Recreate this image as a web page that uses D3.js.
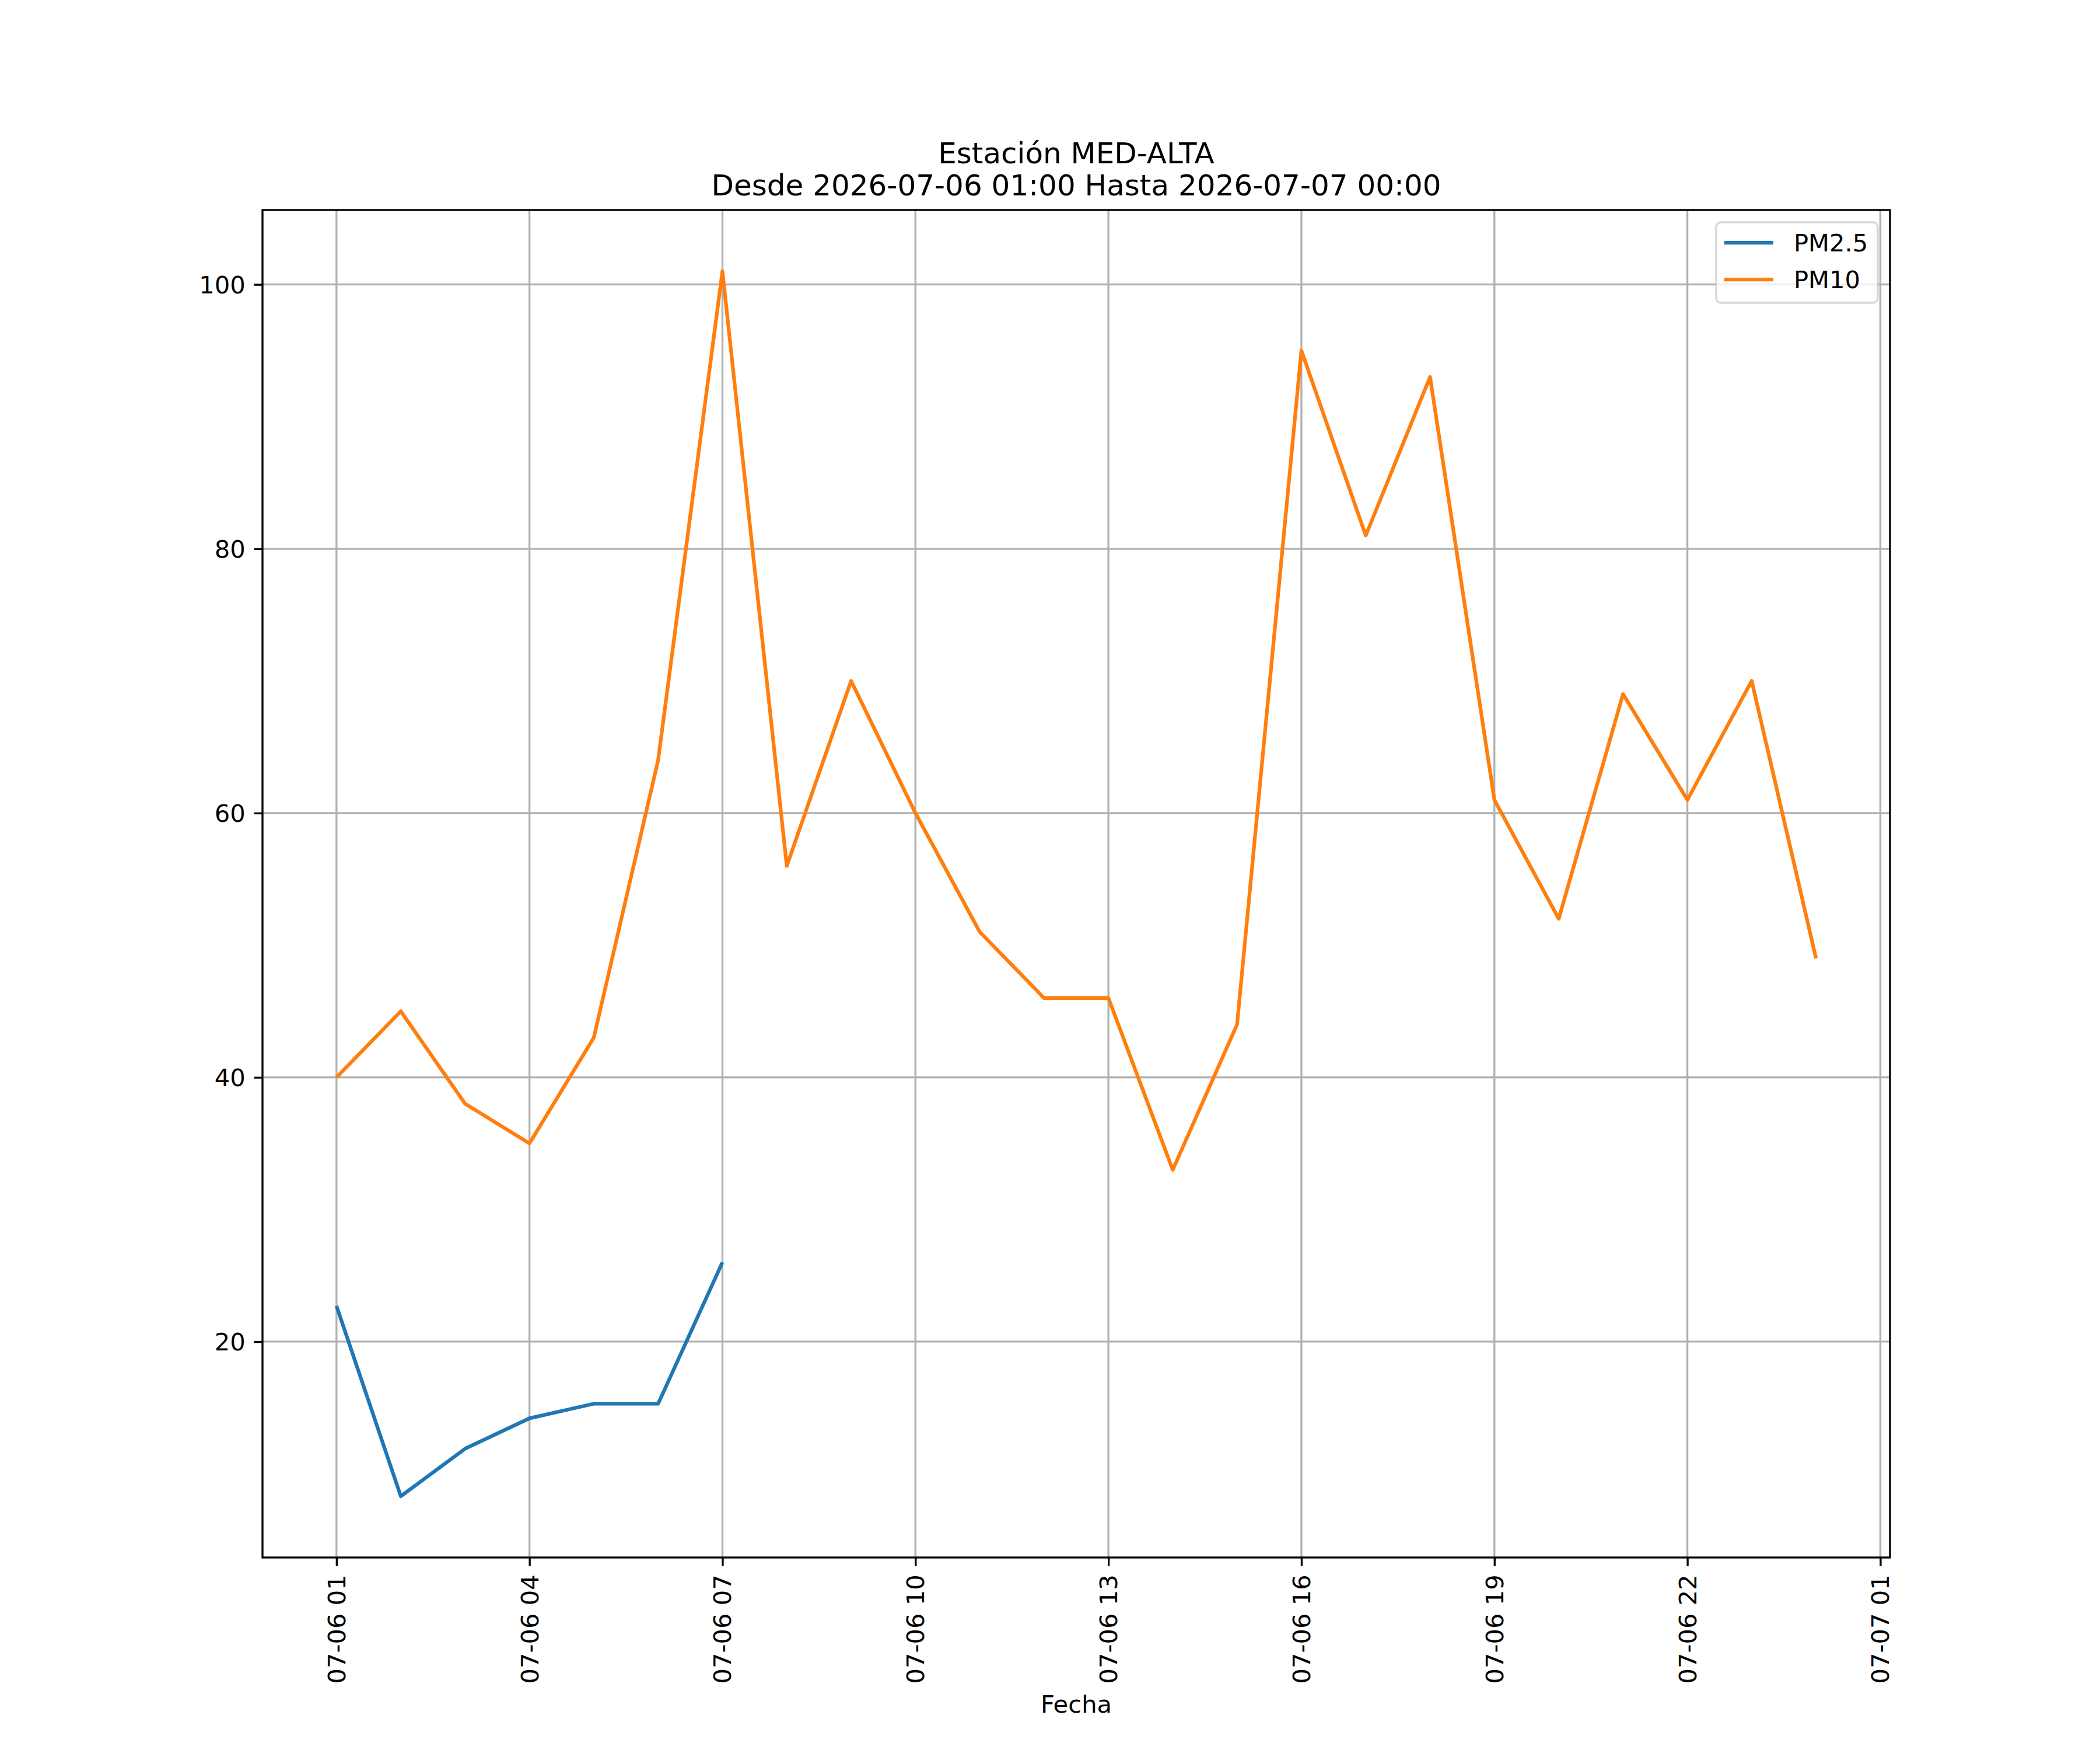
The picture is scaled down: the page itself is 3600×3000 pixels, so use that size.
<!DOCTYPE html>
<html>
<head>
<meta charset="utf-8">
<script src="https://cdn.jsdelivr.net/npm/d3@7"></script>
<style>
  body { margin: 0; background: #fff; }
  svg { display: block; font-family: "DejaVu Sans", sans-serif; }
</style>
</head>
<body>
<svg id="chart" width="3600" height="3000"></svg>
<script>
// horas de medicion
var fechas = [
  '2026-07-06 01:00', '2026-07-06 02:00', '2026-07-06 03:00', '2026-07-06 04:00',
  '2026-07-06 05:00', '2026-07-06 06:00', '2026-07-06 07:00', '2026-07-06 08:00',
  '2026-07-06 09:00', '2026-07-06 10:00', '2026-07-06 11:00', '2026-07-06 12:00',
  '2026-07-06 13:00', '2026-07-06 14:00', '2026-07-06 15:00', '2026-07-06 16:00',
  '2026-07-06 17:00', '2026-07-06 18:00', '2026-07-06 19:00', '2026-07-06 20:00',
  '2026-07-06 21:00', '2026-07-06 22:00', '2026-07-06 23:00', '2026-07-07 00:00'
];
var pm25 = [22.7, 8.3, 11.9, 14.2, 15.3, 15.3, 26.0, null, null, null, null, null,
  null, null, null, null, null, null, null, null, null, null, null, null];
var pm10 = [40, 45, 38, 35, 43, 64, 101, 56, 70, 60, 51, 46,
  46, 33, 44, 95, 81, 93, 61, 52, 69, 61, 70, 49];
var series = ['PM2.5', 'PM10'];
var colores = ['#1f77b4', '#ff7f0e'];
var yTicks = [20, 40, 60, 80, 100];
var titulo = ['Estación MED-ALTA', 'Desde 2026-07-06 01:00 Hasta 2026-07-07 00:00'];
var xLabel = 'Fecha';

var parse = d3.timeParse('%Y-%m-%d %H:%M');
var fmt = d3.timeFormat('%m-%d %H');
var pt = 300 / 72;

var W = 3600, H = 3000;
var m = {left: 450, right: 3240, top: 360, bottom: 2670};

var dates = fechas.map(parse);
var t0 = dates[0], t1 = dates[dates.length - 1];
var span = t1 - t0;
var x = d3.scaleTime()
  .domain([new Date(+t0 - span * 0.05), new Date(+t1 + span * 0.05)])
  .range([m.left, m.right]);

var all = pm25.concat(pm10).filter(function(d){ return d !== null; });
var ymin = d3.min(all), ymax = d3.max(all);
var ypad = (ymax - ymin) * 0.05;
var y = d3.scaleLinear()
  .domain([ymin - ypad, ymax + ypad])
  .range([m.bottom, m.top]);

var svg = d3.select('#chart');
svg.append('rect').attr('width', W).attr('height', H).attr('fill', '#fff');

svg.append('defs').append('clipPath').attr('id', 'clip')
  .append('rect')
  .attr('x', m.left).attr('y', m.top)
  .attr('width', m.right - m.left).attr('height', m.bottom - m.top);

var xTicks = d3.timeHour.range(t0, new Date(+t1 + 2 * 3600e3), 3);

// grid
var grid = svg.append('g');
grid.selectAll('.gx').data(xTicks).enter().append('line')
  .attr('x1', function(d){ return x(d); }).attr('x2', function(d){ return x(d); })
  .attr('y1', m.top).attr('y2', m.bottom)
  .attr('stroke', '#b0b0b0').attr('stroke-width', 0.8 * pt);
grid.selectAll('.gy').data(yTicks).enter().append('line')
  .attr('x1', m.left).attr('x2', m.right)
  .attr('y1', function(d){ return y(d); }).attr('y2', function(d){ return y(d); })
  .attr('stroke', '#b0b0b0').attr('stroke-width', 0.8 * pt);

// lineas
var datos = [pm25, pm10];
var line = d3.line()
  .defined(function(d){ return d[1] !== null; })
  .x(function(d){ return x(d[0]); })
  .y(function(d){ return y(d[1]); });

svg.append('g').attr('clip-path', 'url(#clip)')
  .selectAll('path').data(datos).enter().append('path')
  .attr('d', function(s){ return line(dates.map(function(d, i){ return [d, s[i]]; })); })
  .attr('fill', 'none')
  .attr('stroke', function(d, i){ return colores[i]; })
  .attr('stroke-width', 1.5 * pt)
  .attr('stroke-linejoin', 'round');

// ejes
var fs = 10 * pt;
var xAxis = svg.append('g').attr('transform', 'translate(0,' + m.bottom + ')')
  .call(d3.axisBottom(x).tickValues(xTicks).tickFormat(fmt)
    .tickSize(3.5 * pt).tickPadding(3.5 * pt));
xAxis.select('.domain').remove();
xAxis.selectAll('line').attr('stroke', '#000').attr('stroke-width', 0.8 * pt);
xAxis.selectAll('text')
  .attr('font-size', fs)
  .attr('font-family', 'DejaVu Sans')
  .attr('fill', '#000')
  .attr('text-anchor', 'end')
  .attr('dy', null)
  .attr('dominant-baseline', 'central')
  .attr('transform', 'rotate(-90)')
  .attr('x', -7 * pt)
  .attr('y', 0);

var yAxis = svg.append('g').attr('transform', 'translate(' + m.left + ',0)')
  .call(d3.axisLeft(y).tickValues(yTicks).tickSize(3.5 * pt).tickPadding(3.5 * pt));
yAxis.select('.domain').remove();
yAxis.selectAll('line').attr('stroke', '#000').attr('stroke-width', 0.8 * pt);
yAxis.selectAll('text')
  .attr('font-size', fs)
  .attr('font-family', 'DejaVu Sans')
  .attr('fill', '#000')
  .attr('dy', '0.35em');

// marco
svg.append('rect')
  .attr('x', m.left).attr('y', m.top)
  .attr('width', m.right - m.left).attr('height', m.bottom - m.top)
  .attr('fill', 'none').attr('stroke', '#000').attr('stroke-width', 0.8 * pt);

// titulo
svg.append('g').selectAll('text').data(titulo).enter().append('text')
  .attr('x', (m.left + m.right) / 2)
  .attr('y', function(d, i){ return 280 + i * 55; })
  .attr('text-anchor', 'middle')
  .attr('font-size', 12 * pt)
  .attr('fill', '#000')
  .text(function(d){ return d; });

svg.append('text')
  .attr('x', (m.left + m.right) / 2)
  .attr('y', 2936)
  .attr('text-anchor', 'middle')
  .attr('font-size', fs)
  .attr('fill', '#000')
  .text(xLabel);

// leyenda
var lg = svg.append('g');
lg.append('rect')
  .attr('x', 2942).attr('y', 381).attr('width', 277).attr('height', 138)
  .attr('rx', 8).attr('ry', 8)
  .attr('fill', 'rgba(255,255,255,0.8)')
  .attr('stroke', '#cccccc').attr('stroke-opacity', 0.8)
  .attr('stroke-width', 0.8 * pt);
var items = lg.selectAll('g.item').data(series).enter().append('g')
  .attr('transform', function(d, i){ return 'translate(0,' + (416 + i * 63) + ')'; });
items.append('line')
  .attr('x1', 2956).attr('x2', 3040).attr('y1', 0).attr('y2', 0)
  .attr('stroke', function(d, i){ return colores[i]; })
  .attr('stroke-width', 1.5 * pt);
items.append('text')
  .attr('x', 3075).attr('y', 0).attr('dy', '0.35em')
  .attr('font-size', fs)
  .attr('fill', '#000')
  .text(function(d){ return d; });
</script>
</body>
</html>
